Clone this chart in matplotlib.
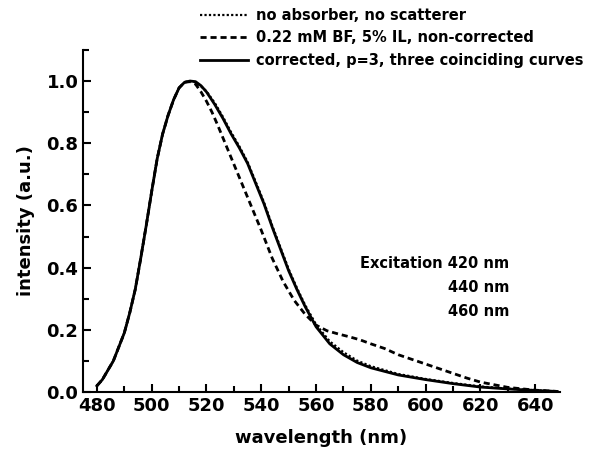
import numpy as np
import matplotlib
matplotlib.use("Agg")
import matplotlib.pyplot as plt
from matplotlib.ticker import MultipleLocator, FormatStrFormatter

plt.rcParams["font.family"] = ["DejaVu Sans"]
plt.rcParams["font.weight"] = "bold"

# rising edge is shared by all curves
WL_RISE = [480, 482, 484, 486, 488, 490, 492, 494, 496, 498, 500, 502, 504,
           506, 508, 510, 512]
I_RISE = [0.02, 0.04, 0.07, 0.10, 0.145, 0.19, 0.255, 0.33, 0.43, 0.535, 0.645,
          0.75, 0.83, 0.89, 0.94, 0.978, 0.996]

# corrected (solid)
WL_CORR = [514, 516, 518, 520, 523, 526, 529, 532, 535, 538, 541, 544, 547,
           550, 553, 556, 560, 565, 570, 575, 580, 590, 600, 610, 620, 630, 640, 648]
I_CORR = [1.0, 0.998, 0.985, 0.965, 0.925, 0.88, 0.83, 0.785, 0.735, 0.67, 0.605,
          0.53, 0.46, 0.39, 0.33, 0.275, 0.21, 0.155, 0.12, 0.095, 0.078, 0.055,
          0.04, 0.027, 0.016, 0.01, 0.005, 0.002]

# no absorber, no scatterer (dotted)
WL_REF = [514, 516, 518, 520, 523, 526, 529, 532, 535, 538, 541, 544, 547,
          550, 553, 556, 560, 565, 570, 575, 580, 590, 600, 610, 620, 630, 640, 648]
I_REF = [1.0, 0.996, 0.983, 0.967, 0.93, 0.885, 0.835, 0.79, 0.74, 0.675, 0.61,
         0.535, 0.465, 0.395, 0.335, 0.28, 0.217, 0.163, 0.128, 0.101, 0.083, 0.058,
         0.042, 0.029, 0.018, 0.011, 0.006, 0.002]

# non-corrected (dashed)
WL_NC = [514, 516, 518, 520, 522, 524, 528, 532, 536, 540, 544, 548, 552, 556,
         560, 564, 568, 572, 576, 580, 585, 590, 595, 600, 605, 610, 615, 620,
         630, 640, 648]
I_NC = [0.998, 0.99, 0.965, 0.935, 0.9, 0.86, 0.775, 0.69, 0.605, 0.52, 0.43,
        0.355, 0.295, 0.25, 0.215, 0.197, 0.187, 0.178, 0.168, 0.155, 0.14, 0.12,
        0.105, 0.09, 0.075, 0.06, 0.045, 0.032, 0.015, 0.006, 0.002]

LABELS = ["no absorber, no scatterer",
          "0.22 mM BF, 5% IL, non-corrected",
          "corrected, p=3, three coinciding curves"]
EXC_LINES = ["Excitation 420 nm", "440 nm", "460 nm"]

fig = plt.figure(figsize=(5.9, 4.58), dpi=100)
ax = fig.add_axes([0.141, 0.144, 0.808, 0.747])

l1, = ax.plot(WL_RISE + WL_REF, I_RISE + I_REF, color="black", lw=1.6,
              ls=(0, (1, 1)))
l2, = ax.plot(WL_RISE + WL_NC, I_RISE + I_NC, color="black", lw=2.0,
              ls=(0, (2.2, 1.4)))
l3, = ax.plot(WL_RISE + WL_CORR, I_RISE + I_CORR, color="black", lw=2.0, ls="-")

ax.set_xlim(475, 649)
ax.set_ylim(0, 1.1)
ax.xaxis.set_major_locator(MultipleLocator(20))
ax.xaxis.set_minor_locator(MultipleLocator(10))
ax.yaxis.set_major_locator(MultipleLocator(0.2))
ax.yaxis.set_minor_locator(MultipleLocator(0.1))
ax.yaxis.set_major_formatter(FormatStrFormatter("%.1f"))
ax.tick_params(which="both", direction="in", width=1.5, labelsize=13,
               top=False, right=False)
ax.tick_params(which="major", length=6)
ax.tick_params(which="minor", length=4)
for sp in ("top", "right"):
    ax.spines[sp].set_visible(False)
for sp in ("left", "bottom"):
    ax.spines[sp].set_linewidth(1.5)

ax.set_xlabel("wavelength (nm)", fontsize=13, fontweight="bold", labelpad=10)
ax.set_ylabel("intensity (a.u.)", fontsize=13, fontweight="bold", labelpad=8)

fig.legend([l1, l2, l3], LABELS, loc="upper left", bbox_to_anchor=(0.317, 1.012),
           frameon=False, handlelength=3.3, handletextpad=0.55,
           labelspacing=0.52, prop={"weight": "bold", "size": 10.5})

ax.text(509 / 590, 1 - 263 / 458, EXC_LINES[0], transform=fig.transFigure,
        ha="right", va="center", fontsize=10.5, fontweight="bold")
for i, t in enumerate(EXC_LINES[1:]):
    ax.text(509 / 590, 1 - (287 + 24 * i) / 458, t, transform=fig.transFigure,
            ha="right", va="center", fontsize=10.5, fontweight="bold")

fig.savefig("out.png", dpi=100, facecolor="white")
